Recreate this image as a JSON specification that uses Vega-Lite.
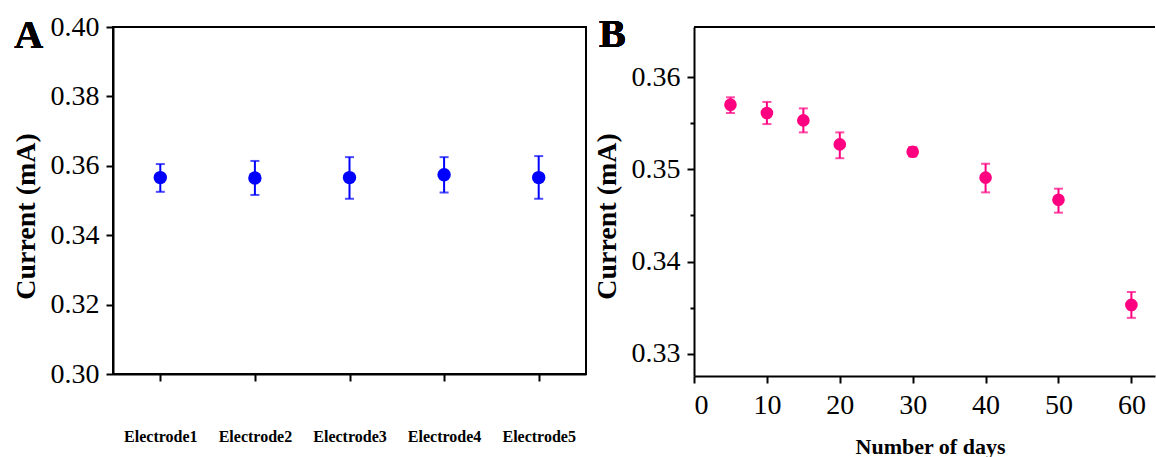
{
  "$schema": "https://vega.github.io/schema/vega-lite/v6.json",
  "padding": {"left": 11, "top": 12, "right": 0, "bottom": 0},
  "spacing": 6,
  "config": {
    "font": "Times New Roman",
    "axis": {"domainColor": "black", "domainWidth": 2, "tickColor": "black", "tickWidth": 2, "labelColor": "black", "titleColor": "black", "labelFont": "Times New Roman", "titleFont": "Times New Roman", "grid": false}
  },
  "hconcat": [
    {
      "width": 473,
      "height": 347,
      "view": {"stroke": "black", "strokeWidth": 2},
      "data": {"values": [
        {"electrode": "Electrode1", "mean": 0.3566, "lo": 0.3525, "hi": 0.3605},
        {"electrode": "Electrode2", "mean": 0.3565, "lo": 0.3516, "hi": 0.3614},
        {"electrode": "Electrode3", "mean": 0.3566, "lo": 0.3505, "hi": 0.3625},
        {"electrode": "Electrode4", "mean": 0.3574, "lo": 0.3523, "hi": 0.3625},
        {"electrode": "Electrode5", "mean": 0.3566, "lo": 0.3505, "hi": 0.3628}
      ]},
      "encoding": {
        "x": {"field": "electrode", "type": "ordinal", "scale": {"type": "point", "padding": 0.5},
          "axis": {"title": null, "labelFontSize": 16, "labelFontWeight": "bold", "labelAngle": 0, "labelPadding": 47, "tickSize": 7, "labelBaseline": "top"}}
      },
      "layer": [
        {
          "mark": {"type": "rule", "color": "#0000FF", "strokeWidth": 2},
          "encoding": {
            "y": {"field": "lo", "type": "quantitative", "title": "Current (mA)", "scale": {"domain": [0.3, 0.4], "nice": false, "zero": false},
              "axis": {"values": [0.3, 0.31, 0.32, 0.33, 0.34, 0.35, 0.36, 0.37, 0.38, 0.39, 0.4],
                "labelExpr": "round(datum.value*100)%2==0 ? format(datum.value,'.2f') : ''",
                "tickSize": {"condition": {"test": "round(datum.value*100)%2==0", "value": 7}, "value": 4},
                "labelFontSize": 28, "labelPadding": 7, "titleFontSize": 28, "titleFontWeight": "bold", "titlePadding": 10, "titleY": 189}},
            "y2": {"field": "hi"}
          }
        },
        {
          "mark": {"type": "tick", "orient": "horizontal", "color": "#0000FF", "size": 9, "thickness": 2},
          "encoding": {"y": {"field": "lo", "type": "quantitative", "title": "Current (mA)", "scale": {"domain": [0.3, 0.4], "nice": false, "zero": false}}}
        },
        {
          "mark": {"type": "tick", "orient": "horizontal", "color": "#0000FF", "size": 9, "thickness": 2},
          "encoding": {"y": {"field": "hi", "type": "quantitative", "title": "Current (mA)", "scale": {"domain": [0.3, 0.4], "nice": false, "zero": false}}}
        },
        {
          "mark": {"type": "circle", "color": "#0000FF", "size": 180, "opacity": 1},
          "encoding": {"y": {"field": "mean", "type": "quantitative", "title": "Current (mA)", "scale": {"domain": [0.3, 0.4], "nice": false, "zero": false}}}
        },
        {
          "mark": {"type": "text", "text": "A", "font": "Times New Roman", "fontSize": 40, "fontWeight": "bold", "color": "black", "align": "left", "baseline": "alphabetic", "dx": -146, "dy": 21},
          "encoding": {"x": {"datum": "Electrode1"}, "y": {"datum": 0.4}}
        }
      ]
    },
    {
      "width": 461,
      "height": 349,
      "view": {"stroke": null},
      "data": {"values": [
        {"day": 5, "mean": 0.3570, "lo": 0.3561, "hi": 0.3578},
        {"day": 10, "mean": 0.3561, "lo": 0.3549, "hi": 0.3573},
        {"day": 15, "mean": 0.3553, "lo": 0.3540, "hi": 0.3566},
        {"day": 20, "mean": 0.3527, "lo": 0.3512, "hi": 0.3540},
        {"day": 30, "mean": 0.3519, "lo": 0.3514, "hi": 0.3524},
        {"day": 40, "mean": 0.3491, "lo": 0.3475, "hi": 0.3506},
        {"day": 50, "mean": 0.3467, "lo": 0.3453, "hi": 0.3479},
        {"day": 60, "mean": 0.3353, "lo": 0.3339, "hi": 0.3367}
      ]},
      "layer": [
        {
          "mark": {"type": "rule", "color": "#FF0080", "strokeWidth": 2},
          "encoding": {
            "x": {"field": "day", "type": "quantitative", "title": "Number of days", "scale": {"domain": [0, 63.24], "nice": false, "zero": false},
              "axis": {"values": [0, 5, 10, 15, 20, 25, 30, 35, 40, 45, 50, 55, 60],
                "labelExpr": "datum.value%10==0 ? format(datum.value,'d') : ''",
                "tickSize": {"condition": {"test": "datum.value%10==0", "value": 7}, "value": 4},
                "labelFontSize": 28, "labelPadding": 8, "labelBaseline": "top", "titleFontSize": 22, "titleFontWeight": "bold", "titlePadding": 17, "titleX": 236}},
            "y": {"field": "lo", "type": "quantitative", "title": "Current (mA)", "scale": {"domain": [0.3276, 0.36542], "nice": false, "zero": false},
              "axis": {"values": [0.33, 0.335, 0.34, 0.345, 0.35, 0.355, 0.36],
                "labelExpr": "round(datum.value*1000)%10==0 ? format(datum.value,'.2f') : ''",
                "tickSize": {"condition": {"test": "round(datum.value*1000)%10==0", "value": 7}, "value": 4},
                "labelFontSize": 28, "labelPadding": 7, "titleFontSize": 28, "titleFontWeight": "bold", "titlePadding": 10, "titleY": 189}},
            "y2": {"field": "hi"}
          }
        },
        {
          "mark": {"type": "tick", "orient": "horizontal", "color": "#FF0080", "size": 9, "thickness": 2},
          "encoding": {
            "x": {"field": "day", "type": "quantitative", "title": "Number of days", "scale": {"domain": [0, 63.24], "nice": false, "zero": false}},
            "y": {"field": "lo", "type": "quantitative", "title": "Current (mA)", "scale": {"domain": [0.3276, 0.36542], "nice": false, "zero": false}}
          }
        },
        {
          "mark": {"type": "tick", "orient": "horizontal", "color": "#FF0080", "size": 9, "thickness": 2},
          "encoding": {
            "x": {"field": "day", "type": "quantitative", "title": "Number of days", "scale": {"domain": [0, 63.24], "nice": false, "zero": false}},
            "y": {"field": "hi", "type": "quantitative", "title": "Current (mA)", "scale": {"domain": [0.3276, 0.36542], "nice": false, "zero": false}}
          }
        },
        {
          "mark": {"type": "circle", "color": "#FF0080", "size": 160, "opacity": 1},
          "encoding": {
            "x": {"field": "day", "type": "quantitative", "title": "Number of days", "scale": {"domain": [0, 63.24], "nice": false, "zero": false}},
            "y": {"field": "mean", "type": "quantitative", "title": "Current (mA)", "scale": {"domain": [0.3276, 0.36542], "nice": false, "zero": false}}
          }
        },
        {
          "mark": {"type": "rule", "color": "black", "strokeWidth": 2},
          "encoding": {"y": {"datum": 0.36542}}
        },
        {
          "mark": {"type": "text", "text": "B", "font": "Times New Roman", "fontSize": 40, "fontWeight": "bold", "color": "black", "align": "left", "baseline": "alphabetic", "dx": -95, "dy": 20},
          "encoding": {"x": {"datum": 0}, "y": {"datum": 0.36542}}
        }
      ]
    }
  ]
}
